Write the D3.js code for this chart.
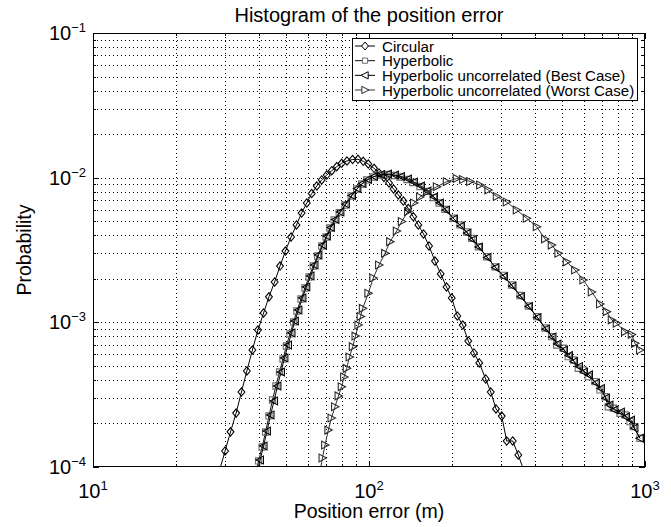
<!DOCTYPE html>
<html>
<head>
<meta charset="utf-8">
<script src="https://cdn.jsdelivr.net/npm/d3@7"></script>
<style>
  body { margin: 0; background: #fff; }
  text { font-family: "Liberation Sans", Arial, Helvetica, sans-serif; fill: #000; }
</style>
</head>
<body>
<div id="chart"></div>
<script>
// values (position error in m, probability)
const circularX = [28.7, 30.1, 31.5, 33.0, 34.5, 36.1, 37.8, 39.6, 41.5, 43.4, 45.5, 47.6, 49.8, 52.2, 54.6, 57.0, 59.5, 62.0, 64.7, 67.4, 70.3, 73.3, 76.4, 79.6, 83.2, 87.2, 91.2, 95.3, 99.4, 104.3, 108.7, 113.3, 118.2, 122.7, 127.7, 133.2, 138.8, 144.7, 150.9, 157.6, 165.0, 173.4, 181.9, 190.9, 199.4, 208.9, 218.6, 228.9, 240.0, 250.9, 264.7, 276.1, 288.5, 302.6, 315.4, 331.6, 347.5, 364.5]
const circularY = [9.4e-5, 1.29e-4, 1.75e-4, 2.36e-4, 3.30e-4, 4.61e-4, 6.44e-4, 8.85e-4, 1.16e-3, 1.50e-3, 1.90e-3, 2.45e-3, 3.11e-3, 3.89e-3, 4.71e-3, 5.70e-3, 6.68e-3, 7.77e-3, 8.76e-3, 9.64e-3, 1.043e-2, 1.117e-2, 1.191e-2, 1.257e-2, 1.304e-2, 1.335e-2, 1.340e-2, 1.298e-2, 1.243e-2, 1.161e-2, 1.077e-2, 1.003e-2, 9.19e-3, 8.35e-3, 7.59e-3, 6.90e-3, 6.12e-3, 5.37e-3, 4.71e-3, 4.08e-3, 3.37e-3, 2.65e-3, 2.16e-3, 1.755e-3, 1.473e-3, 1.106e-3, 9.58e-4, 7.43e-4, 6.14e-4, 5.24e-4, 4.06e-4, 3.30e-4, 2.52e-4, 2.25e-4, 1.513e-4, 1.513e-4, 1.211e-4, 9.38e-5]

const hyperbolicX = [39.0, 39.8, 41.0, 42.2, 43.4, 44.7, 46.0, 47.4, 48.8, 50.2, 51.7, 53.3, 54.8, 56.7, 58.6, 60.6, 62.8, 65.1, 67.4, 69.9, 72.2, 74.7, 78.0, 81.8, 86.1, 90.2, 94.1, 98.1, 103.4, 109.6, 116.2, 123.2, 129.5, 137.3, 144.3, 153.0, 161.8, 171.0, 179.3, 188.5, 202.0, 213.6, 225.9, 235.5, 248.9, 266.9, 286.1, 306.6, 328.8, 352.4, 377.6, 405.1, 434.1, 459.1, 478.6, 505.7, 527.2, 549.7, 573.2, 597.6, 623.1, 658.8, 686.9, 716.1, 736.1, 767.4, 811.6, 846.2, 882.3, 906.9, 959]
const hyperbolicY = [9.24e-5, 1.101e-4, 1.375e-4, 1.746e-4, 2.253e-4, 2.906e-4, 3.63e-4, 4.54e-4, 5.58e-4, 6.86e-4, 8.31e-4, 1.006e-3, 1.198e-3, 1.450e-3, 1.727e-3, 2.058e-3, 2.452e-3, 2.874e-3, 3.371e-3, 3.89e-3, 4.49e-3, 5.10e-3, 5.73e-3, 6.47e-3, 7.47e-3, 8.35e-3, 9.04e-3, 9.64e-3, 1.011e-2, 1.043e-2, 1.052e-2, 1.035e-2, 1.011e-2, 9.71e-3, 9.26e-3, 8.69e-3, 8.03e-3, 7.29e-3, 6.68e-3, 6.03e-3, 5.24e-3, 4.71e-3, 4.21e-3, 3.81e-3, 3.33e-3, 2.84e-3, 2.42e-3, 2.11e-3, 1.812e-3, 1.533e-3, 1.297e-3, 1.094e-3, 9.14e-4, 7.96e-4, 6.97e-4, 6.62e-4, 5.79e-4, 5.49e-4, 4.81e-4, 4.68e-4, 4.21e-4, 3.89e-4, 3.41e-4, 3.06e-4, 2.61e-4, 2.55e-4, 2.35e-4, 2.29e-4, 2.06e-4, 1.90e-4, 1.58e-4]

const bestX = [39.4, 40.3, 41.5, 42.7, 44.0, 45.3, 46.6, 48.0, 49.4, 50.9, 52.4, 53.9, 55.5, 57.4, 59.3, 61.4, 63.5, 65.6, 68.1, 70.4, 72.8, 75.6, 78.8, 82.5, 86.8, 90.8, 94.7, 99.2, 104.3, 110.5, 117.2, 124.2, 130.6, 138.4, 145.5, 154.3, 162.9, 172.0, 180.8, 190.1, 203.2, 215.4, 227.4, 238.1, 250.3, 268.7, 287.3, 308.4, 331.1, 355.4, 379.9, 407.9, 437.8, 462.3, 482.0, 508.8, 530.5, 553.2, 576.8, 601.2, 626.8, 664.4, 692.7, 722.2, 743.7, 775.4, 818.4, 853.3, 890.0, 916.0, 959]
const bestY = [9.24e-5, 1.118e-4, 1.397e-4, 1.774e-4, 2.29e-4, 2.86e-4, 3.63e-4, 4.54e-4, 5.67e-4, 6.97e-4, 8.44e-4, 1.022e-3, 1.217e-3, 1.473e-3, 1.755e-3, 2.09e-3, 2.49e-3, 2.92e-3, 3.42e-3, 3.95e-3, 4.52e-3, 5.14e-3, 5.79e-3, 6.58e-3, 7.53e-3, 8.42e-3, 9.11e-3, 9.71e-3, 1.019e-2, 1.052e-2, 1.060e-2, 1.043e-2, 1.019e-2, 9.79e-3, 9.34e-3, 8.76e-3, 8.09e-3, 7.35e-3, 6.68e-3, 5.98e-3, 5.18e-3, 4.63e-3, 4.14e-3, 3.74e-3, 3.32e-3, 2.81e-3, 2.39e-3, 2.07e-3, 1.783e-3, 1.509e-3, 1.287e-3, 1.080e-3, 9.00e-4, 7.92e-4, 7.08e-4, 6.44e-4, 5.90e-4, 5.36e-4, 4.95e-4, 4.54e-4, 4.33e-4, 3.81e-4, 3.49e-4, 3.00e-4, 2.68e-4, 2.48e-4, 2.40e-4, 2.22e-4, 2.11e-4, 1.86e-4, 1.58e-4]

const worstX = [66.4, 67.8, 69.3, 71.2, 73.1, 75.3, 77.5, 79.6, 81.2, 83.0, 85.0, 87.3, 89.3, 91.5, 93.2, 94.9, 99.4, 103.6, 108.7, 114.3, 119.2, 126.0, 131.4, 138.4, 145.5, 153.0, 162.2, 176.0, 191.2, 207.8, 219.1, 232.3, 252.5, 270.5, 290.2, 315.4, 342.8, 372.7, 405.2, 434.1, 459.1, 485.1, 520.2, 557.9, 597.6, 641.0, 686.9, 726.3, 757.3, 789.6, 846.2, 894.8, 919.7, 959]
const worstY = [9.24e-5, 1.154e-4, 1.420e-4, 1.80e-4, 2.18e-4, 2.61e-4, 3.10e-4, 3.59e-4, 4.19e-4, 4.81e-4, 5.76e-4, 6.79e-4, 8.04e-4, 9.59e-4, 1.098e-3, 1.250e-3, 1.588e-3, 2.025e-3, 2.49e-3, 3.00e-3, 3.61e-3, 4.28e-3, 4.98e-3, 5.84e-3, 6.68e-3, 7.35e-3, 7.96e-3, 8.66e-3, 9.38e-3, 9.87e-3, 9.71e-3, 9.41e-3, 8.90e-3, 8.22e-3, 7.41e-3, 6.79e-3, 5.98e-3, 5.24e-3, 4.58e-3, 3.77e-3, 3.42e-3, 3.00e-3, 2.62e-3, 2.30e-3, 1.962e-3, 1.621e-3, 1.339e-3, 1.185e-3, 1.038e-3, 9.85e-4, 8.62e-4, 8.24e-4, 7.16e-4, 6.44e-4]

const seriesNames = ['Circular', 'Hyperbolic', 'Hyperbolic uncorrelated (Best Case)', 'Hyperbolic uncorrelated (Worst Case)']
const xMajorTicks = [10, 100, 1000]
const xTickExp = ['1', '2', '3']
const yMajorTicks = [1e-4, 1e-3, 1e-2, 1e-1]
const yTickExp = ['\u22124', '\u22123', '\u22122', '\u22121']

const width = 671
const height = 527
const plot = { left: 93, right: 645, top: 33, bottom: 467 }

const xScale = d3.scaleLog().domain([10, 1000]).range([plot.left, plot.right])
const yScale = d3.scaleLog().domain([1e-4, 1e-1]).range([plot.bottom, plot.top])

// marker shapes, centred on 0,0
const markers = {
  diamond: 'M0,-4.2L3.4,0L0,4.2L-3.4,0Z',
  square: 'M-3.1,-3.1H3.1V3.1H-3.1Z',
  left: 'M-4,0L3.4,-3.9L3.4,3.9Z',
  right: 'M4,0L-3.4,-3.9L-3.4,3.9Z'
}
const legendMarkers = {
  diamond: 'M0,-4L3.4,0L0,4L-3.4,0Z',
  square: 'M-2.6,-2.6H2.6V2.6H-2.6Z',
  left: 'M-4,0L3.2,-3.6L3.2,3.6Z',
  right: 'M4,0L-3.2,-3.6L-3.2,3.6Z'
}

const series = [
  { name: seriesNames[0], xs: circularX, ys: circularY, marker: 'diamond', line: '#000', mark: '#000' },
  { name: seriesNames[1], xs: hyperbolicX, ys: hyperbolicY, marker: 'square', line: '#111', mark: '#6e6e6e' },
  { name: seriesNames[2], xs: bestX, ys: bestY, marker: 'left', line: '#000', mark: '#000' },
  { name: seriesNames[3], xs: worstX, ys: worstY, marker: 'right', line: '#333', mark: '#2a2a2a' }
]

const svg = d3.select('#chart').append('svg')
  .attr('width', width)
  .attr('height', height)

svg.append('rect').attr('width', width).attr('height', height).attr('fill', '#fff')

svg.append('defs').append('clipPath').attr('id', 'plotClip')
  .append('rect')
  .attr('x', plot.left).attr('y', plot.top)
  .attr('width', plot.right - plot.left).attr('height', plot.bottom - plot.top)

// minor + major tick values
const xAllTicks = xScale.ticks().filter(v => v > 10 && v < 1000)
const yAllTicks = yScale.ticks().filter(v => v > 1e-4 * 1.0001 && v < 1e-1 * 0.9999)

// dotted grid
const grid = svg.append('g').attr('stroke', '#000').attr('stroke-width', 1).attr('stroke-dasharray', '1,3')
grid.selectAll('.gx').data(xAllTicks).join('line')
  .attr('x1', d => Math.round(xScale(d)) + 0.5).attr('x2', d => Math.round(xScale(d)) + 0.5)
  .attr('y1', plot.top).attr('y2', plot.bottom)
grid.selectAll('.gy').data(yAllTicks).join('line')
  .attr('y1', d => Math.round(yScale(d)) + 0.5).attr('y2', d => Math.round(yScale(d)) + 0.5)
  .attr('x1', plot.left).attr('x2', plot.right)

// inward ticks on all four sides
const isMajor = v => Math.abs(Math.log10(v) - Math.round(Math.log10(v))) < 1e-6
const ticks = svg.append('g').attr('stroke', '#000').attr('stroke-width', 1)
xScale.ticks().forEach(v => {
  const px = Math.round(xScale(v)) + 0.5
  const len = isMajor(v) ? 6 : 3
  ticks.append('line').attr('x1', px).attr('x2', px).attr('y1', plot.bottom).attr('y2', plot.bottom - len)
  ticks.append('line').attr('x1', px).attr('x2', px).attr('y1', plot.top).attr('y2', plot.top + len)
})
yScale.ticks().forEach(v => {
  const py = Math.round(yScale(v)) + 0.5
  const len = isMajor(v) ? 6 : 3
  ticks.append('line').attr('y1', py).attr('y2', py).attr('x1', plot.left).attr('x2', plot.left + len)
  ticks.append('line').attr('y1', py).attr('y2', py).attr('x1', plot.right).attr('x2', plot.right - len)
})

// data
const lineGen = d3.line().x(d => xScale(d[0])).y(d => yScale(d[1]))
const dataG = svg.append('g').attr('clip-path', 'url(#plotClip)')
series.forEach(s => {
  const pts = d3.zip(s.xs, s.ys)
  const g = dataG.append('g')
  g.append('path')
    .attr('d', lineGen(pts))
    .attr('fill', 'none')
    .attr('stroke', s.line)
    .attr('stroke-width', 1)
  g.selectAll('path.mk').data(pts).join('path')
    .attr('class', 'mk')
    .attr('d', markers[s.marker])
    .attr('transform', d => `translate(${xScale(d[0])},${yScale(d[1])})`)
    .attr('fill', 'none')
    .attr('stroke', s.mark)
    .attr('stroke-width', 1.1)
})

// axes box
svg.append('rect')
  .attr('x', plot.left + 0.5).attr('y', plot.top + 0.5)
  .attr('width', plot.right - plot.left - 1).attr('height', plot.bottom - plot.top - 1)
  .attr('fill', 'none').attr('stroke', '#000').attr('stroke-width', 1)

// tick labels
const xLab = svg.append('g')
xMajorTicks.forEach((v, i) => {
  const t = xLab.append('text')
    .attr('x', xScale(v))
    .attr('y', 498)
    .attr('text-anchor', 'middle')
    .style('font-size', '20px')
  t.append('tspan').text('10')
  t.append('tspan').attr('dy', -8).style('font-size', '13px').text(xTickExp[i])
})
const yLab = svg.append('g')
yMajorTicks.forEach((v, i) => {
  const t = yLab.append('text')
    .attr('x', 86)
    .attr('y', yScale(v) + 7)
    .attr('text-anchor', 'end')
    .style('font-size', '20px')
  t.append('tspan').text('10')
  t.append('tspan').attr('dy', -8).style('font-size', '13px').text(yTickExp[i])
})

// title and axis labels
svg.append('text')
  .attr('x', (plot.left + plot.right) / 2)
  .attr('y', 22)
  .attr('text-anchor', 'middle')
  .style('font-size', '20px')
  .text('Histogram of the position error')
svg.append('text')
  .attr('x', (plot.left + plot.right) / 2)
  .attr('y', 518)
  .attr('text-anchor', 'middle')
  .style('font-size', '19.5px')
  .text('Position error (m)')
svg.append('text')
  .attr('transform', `translate(31, ${(plot.top + plot.bottom) / 2}) rotate(-90)`)
  .attr('text-anchor', 'middle')
  .style('font-size', '19.5px')
  .text('Probability')

// legend
const legend = svg.append('g')
legend.append('rect')
  .attr('x', 352.5).attr('y', 38.5)
  .attr('width', 285).attr('height', 62)
  .attr('fill', '#fff').attr('stroke', '#000').attr('stroke-width', 1)
const legendY = d3.scalePoint().domain(seriesNames).range([46, 90])
series.forEach(s => {
  const cy = legendY(s.name)
  legend.append('line')
    .attr('x1', 355).attr('x2', 375).attr('y1', cy).attr('y2', cy)
    .attr('stroke', s.line).attr('stroke-width', 1)
  legend.append('path')
    .attr('d', legendMarkers[s.marker])
    .attr('transform', `translate(365,${cy})`)
    .attr('fill', '#fff')
    .attr('stroke', s.mark)
  legend.append('text')
    .attr('x', 382)
    .attr('y', cy + 5.5)
    .style('font-size', '15.1px')
    .text(s.name)
})
</script>
</body>
</html>
